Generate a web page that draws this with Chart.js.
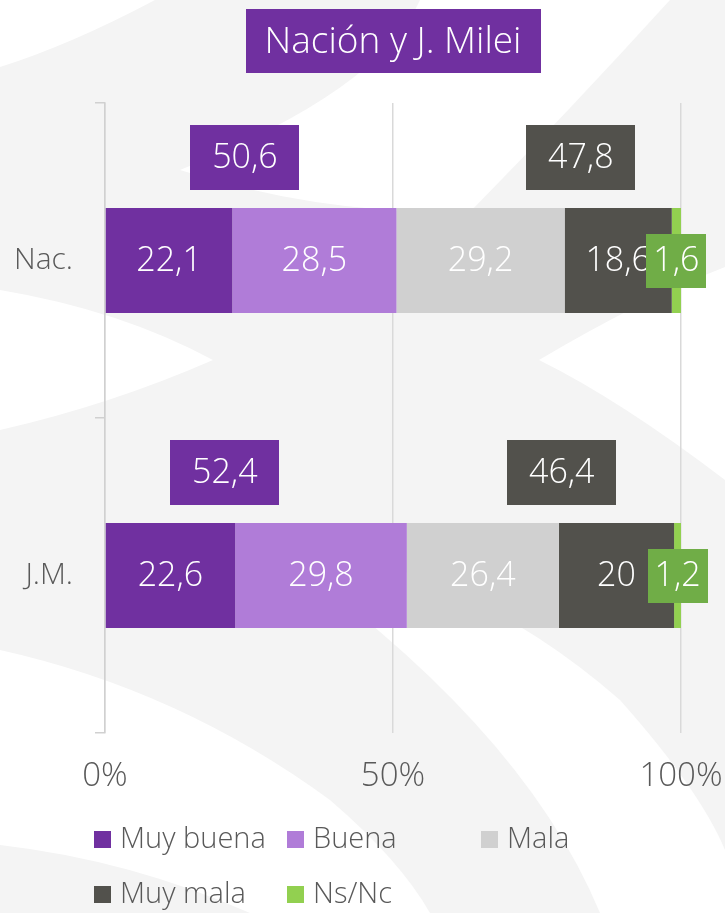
<!DOCTYPE html>
<html>
<head>
<meta charset="utf-8">
<script src="https://cdn.jsdelivr.net/npm/chart.js@4.4.0/dist/chart.umd.min.js"></script>
<style>
  html, body { margin: 0; padding: 0; background: #ffffff; }
  canvas { display: block; }
</style>
</head>
<body>
<canvas id="chart" width="725" height="913"></canvas>
<script>
// data
var categories = ['Nac.', 'J.M.'];
var seriesNames = ['Muy buena', 'Buena', 'Mala', 'Muy mala', 'Ns/Nc'];
var muyBuena = [22.1, 22.6];
var buena = [28.5, 29.8];
var mala = [29.2, 26.4];
var muyMala = [18.6, 20];
var nsNc = [1.6, 1.2];
var positiveTotals = [50.6, 52.4];
var negativeTotals = [47.8, 46.4];
var xTickValues = [0, 50, 100];
var chartTitle = 'Nación y J. Milei';

// where the total boxes sit, in % along the axis
var positiveBoxAt = [24.3, 20.8];
var negativeBoxAt = [82.6, 79.3];

var seriesColors = ['#7030a0', '#b07cd8', '#d0d0d0', '#52514c', '#92d050'];
var totalColors = ['#7030a0', '#52514c'];
var fontFamily = "'Open Sans', sans-serif";
var textGrey = '#595959';

function fmt(v) {
    return String(v).replace('.', ',');
}

function labelBox(ctx, cx, cy, w, h, fill, text) {
    ctx.fillStyle = fill;
    ctx.fillRect(Math.round(cx - w / 2), Math.round(cy - h / 2), w, h);
    ctx.fillStyle = '#ffffff';
    ctx.fillText(text, cx, cy + 1);
}

var backgroundPlugin = {
    id: 'backgroundSwirl',
    beforeDraw: function(chart) {
        var ctx = chart.ctx;
        ctx.save();
        ctx.fillStyle = '#f4f4f4';
        ctx.fillRect(0, 0, chart.width, chart.height);
        ctx.fillStyle = '#ffffff';

        ctx.beginPath();
        ctx.moveTo(0, 0);
        ctx.lineTo(155, 0);
        ctx.quadraticCurveTo(70, 45, 0, 67);
        ctx.closePath();
        ctx.fill();

        ctx.beginPath();
        ctx.moveTo(420, 0);
        ctx.lineTo(670, 0);
        ctx.quadraticCurveTo(570, 110, 470, 212);
        ctx.quadraticCurveTo(320, 215, 180, 170);
        ctx.quadraticCurveTo(380, 90, 420, 0);
        ctx.closePath();
        ctx.fill();

        ctx.beginPath();
        ctx.moveTo(0, 290);
        ctx.quadraticCurveTo(120, 310, 213, 360);
        ctx.quadraticCurveTo(110, 405, 0, 430);
        ctx.closePath();
        ctx.fill();

        ctx.beginPath();
        ctx.moveTo(539, 360);
        ctx.quadraticCurveTo(640, 300, 725, 267);
        ctx.lineTo(725, 480);
        ctx.quadraticCurveTo(620, 400, 539, 360);
        ctx.closePath();
        ctx.fill();

        ctx.beginPath();
        ctx.moveTo(0, 650);
        ctx.quadraticCurveTo(180, 690, 330, 800);
        ctx.quadraticCurveTo(400, 860, 430, 913);
        ctx.lineTo(250, 913);
        ctx.quadraticCurveTo(130, 860, 0, 845);
        ctx.closePath();
        ctx.fill();

        ctx.beginPath();
        ctx.moveTo(260, 540);
        ctx.quadraticCurveTo(460, 560, 620, 700);
        ctx.quadraticCurveTo(700, 790, 725, 850);
        ctx.lineTo(725, 913);
        ctx.lineTo(600, 913);
        ctx.quadraticCurveTo(520, 720, 260, 540);
        ctx.closePath();
        ctx.fill();
        ctx.restore();
    }
};

var overlayPlugin = {
    id: 'overlay',
    afterDatasetsDraw: function(chart) {
        var ctx = chart.ctx;
        var xScale = chart.scales.x;
        var area = chart.chartArea;
        ctx.save();
        ctx.textAlign = 'center';
        ctx.textBaseline = 'middle';
        ctx.font = '300 34px ' + fontFamily;

        chart.data.datasets.forEach(function(ds, di) {
            var meta = chart.getDatasetMeta(di);
            meta.data.forEach(function(bar, i) {
                var cx = (bar.x + bar.base) / 2;
                if (di === seriesNames.length - 1) {
                    labelBox(ctx, cx, bar.y, 60, 54, '#70ad47', fmt(ds.data[i]));
                } else {
                    ctx.fillStyle = '#ffffff';
                    ctx.fillText(fmt(ds.data[i]), cx, bar.y + 1);
                }
            });
        });

        var firstMeta = chart.getDatasetMeta(0);
        categories.forEach(function(c, i) {
            var bar = firstMeta.data[i];
            var cy = bar.y - bar.height / 2 - 19 - 32;
            labelBox(ctx, xScale.getPixelForValue(positiveBoxAt[i]), cy, 109, 65, totalColors[0], fmt(positiveTotals[i]));
            labelBox(ctx, xScale.getPixelForValue(negativeBoxAt[i]), cy, 109, 65, totalColors[1], fmt(negativeTotals[i]));
        });

        // title box
        ctx.font = '300 37px ' + fontFamily;
        var tw = ctx.measureText(chartTitle).width + 38;
        labelBox(ctx, (area.left + area.right) / 2, 41, Math.round(tw), 64, '#7030a0', chartTitle);
        ctx.restore();
    },
    afterDraw: function(chart) {
        var ctx = chart.ctx;
        var cols = [94, 287, 481];
        var rows = [840, 895];
        ctx.save();
        ctx.font = '300 29px ' + fontFamily;
        ctx.textAlign = 'left';
        ctx.textBaseline = 'middle';
        chart.data.datasets.forEach(function(ds, di) {
            var x = cols[di % 3];
            var y = rows[Math.floor(di / 3)];
            if (di === 4) x = cols[1];
            if (di === 3) x = cols[0];
            ctx.fillStyle = ds.backgroundColor;
            ctx.fillRect(x, y - 9, 17, 17);
            ctx.fillStyle = textGrey;
            ctx.fillText(ds.label, x + 26, y);
        });
        ctx.restore();
    }
};

var seriesValues = [muyBuena, buena, mala, muyMala, nsNc];
var datasets = seriesNames.map(function(name, i) {
    return {
        label: name,
        data: seriesValues[i],
        backgroundColor: seriesColors[i],
        borderWidth: 0,
        barPercentage: 1,
        categoryPercentage: 1 / 3
    };
});

var chart = new Chart(document.getElementById('chart'), {
    type: 'bar',
    data: {
        labels: categories,
        datasets: datasets
    },
    options: {
        indexAxis: 'y',
        responsive: false,
        animation: false,
        devicePixelRatio: 1,
        layout: {
            padding: { top: 103, right: 44, bottom: 100, left: 0 }
        },
        plugins: {
            legend: { display: false },
            tooltip: { enabled: false }
        },
        scales: {
            x: {
                stacked: true,
                min: 0,
                max: 100,
                afterBuildTicks: function(scale) {
                    scale.ticks = xTickValues.map(function(v) { return { value: v }; });
                },
                ticks: {
                    callback: function(v) { return v + '%'; },
                    padding: 24,
                    color: textGrey,
                    maxRotation: 0,
                    font: { family: fontFamily, size: 33, weight: '300' }
                },
                grid: { color: '#d9d9d9', drawTicks: false, lineWidth: 1.5 },
                border: { display: false },
                afterFit: function(scale) {
                    scale.height = 80;
                    scale.paddingLeft = 0;
                    scale.paddingRight = 0;
                }
            },
            y: {
                stacked: true,
                grid: { offset: true, drawOnChartArea: false, drawTicks: true, tickLength: 10, color: '#d0d0d0', lineWidth: 1.5 },
                border: { display: true, color: '#d0d0d0', width: 1.5 },
                ticks: {
                    padding: 22,
                    color: textGrey,
                    font: { family: fontFamily, size: 30, weight: '300' }
                },
                afterFit: function(scale) {
                    scale.width = 105;
                    scale.paddingTop = 0;
                    scale.paddingBottom = 0;
                }
            }
        }
    },
    plugins: [backgroundPlugin, overlayPlugin]
});
</script>
</body>
</html>
